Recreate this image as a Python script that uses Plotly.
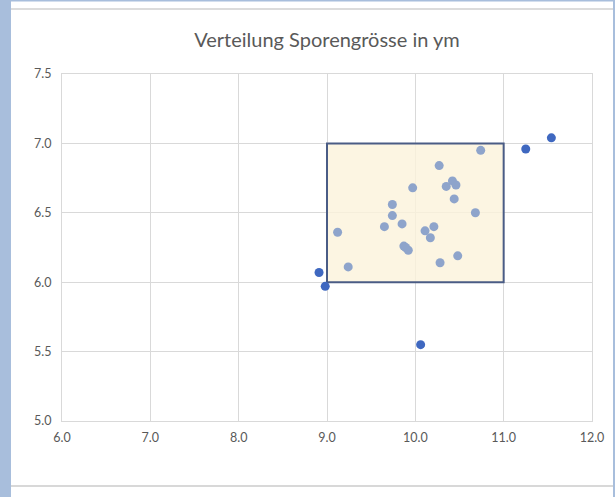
import plotly.graph_objects as go

title = "Verteilung Sporengrösse in ym"

# Points inside the range (light)
x_in = [10.74, 10.27, 10.42, 10.35, 10.46, 9.97, 10.44, 9.74, 9.74, 10.68,
        9.12, 9.65, 9.85, 10.21, 10.11, 10.17, 9.87, 9.89, 9.92, 9.24,
        10.28, 10.48]
y_in = [6.95, 6.84, 6.73, 6.69, 6.70, 6.68, 6.60, 6.56, 6.48, 6.50,
        6.36, 6.40, 6.42, 6.40, 6.37, 6.32, 6.26, 6.25, 6.23, 6.11,
        6.14, 6.19]

# Outliers (dark)
x_out = [11.54, 11.25, 8.91, 8.98, 10.06]
y_out = [7.04, 6.96, 6.07, 5.97, 5.55]

# Target range box
box_x = [9.0, 11.0]
box_y = [6.0, 7.0]

x_ticks = [6.0, 7.0, 8.0, 9.0, 10.0, 11.0, 12.0]
y_ticks = [5.0, 5.5, 6.0, 6.5, 7.0, 7.5]

W, H = 615, 497
L, R, T, B = 62, 23, 74, 76
pw, ph = W - L - R, H - T - B


def px(xp):
    return (xp - L) / pw


def py(yp):
    return (H - B - yp) / ph


fig = go.Figure()

fig.add_trace(go.Scatter(
    x=x_in, y=y_in, mode="markers",
    marker=dict(size=9, color="#8EA4CB"),
    hoverinfo="x+y", showlegend=False))
fig.add_trace(go.Scatter(
    x=x_out, y=y_out, mode="markers",
    marker=dict(size=9, color="#3F68C0"),
    hoverinfo="x+y", showlegend=False))

shapes = [
    dict(type="rect", xref="x", yref="y", x0=box_x[0], x1=box_x[1],
         y0=box_y[0], y1=box_y[1], fillcolor="rgba(251,243,220,0.82)",
         line=dict(color="#4A5C85", width=2), layer="between"),
    # page decoration: left/right blue strips, top line, bottom line
    dict(type="rect", xref="paper", yref="paper", x0=px(0), x1=px(11),
         y0=py(H), y1=py(0), fillcolor="#A8BEDC", line=dict(width=0)),
    dict(type="rect", xref="paper", yref="paper", x0=px(613), x1=px(W),
         y0=py(H), y1=py(0), fillcolor="#A8BEDC", line=dict(width=0)),
    dict(type="rect", xref="paper", yref="paper", x0=px(0), x1=px(W),
         y0=py(1.5), y1=py(0), fillcolor="#A8BEDC", line=dict(width=0)),
    dict(type="line", xref="paper", yref="paper", x0=px(11), x1=px(613),
         y0=py(9), y1=py(9), line=dict(color="#DCDCDC", width=2)),
    dict(type="line", xref="paper", yref="paper", x0=px(11), x1=px(613),
         y0=py(486), y1=py(486), line=dict(color="#D8D8D8", width=2)),
]

fig.update_layout(
    width=W, height=H,
    margin=dict(l=L, r=R, t=T, b=B),
    paper_bgcolor="white", plot_bgcolor="white",
    font=dict(family="Lato, Liberation Sans, sans-serif", color="#595959", size=12),
    title=dict(text=title, x=0.5, xref="paper", xanchor="center",
               y=1 - 40 / H, yanchor="middle",
               font=dict(size=20, color="#595959",
                         family="Lato, Liberation Sans, sans-serif")),
    shapes=shapes,
    xaxis=dict(range=[6.0, 12.0], tickvals=x_ticks,
               ticktext=[f"{v:.1f}" for v in x_ticks],
               showgrid=True, gridcolor="#D9D9D9", gridwidth=1,
               zeroline=False, showline=True, linecolor="#D9D9D9",
               mirror=True, ticks="", ticklabelstandoff=5,
               tickfont=dict(size=12.5, color="#595959")),
    yaxis=dict(range=[5.0, 7.5], tickvals=y_ticks,
               ticktext=[f"{v:.1f}" for v in y_ticks],
               showgrid=True, gridcolor="#D9D9D9", gridwidth=1,
               zeroline=False, showline=True, linecolor="#D9D9D9",
               mirror=True, ticks="", ticklabelstandoff=7,
               tickfont=dict(size=12.5, color="#595959")),
)

fig.write_html("out.html",
               config={"displayModeBar": False},
               post_script="document.body.style.margin='0';")
